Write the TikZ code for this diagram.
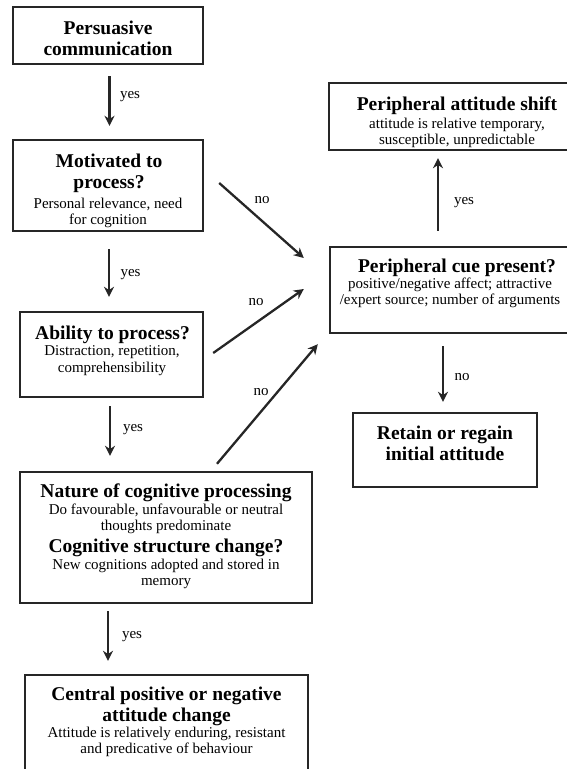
\documentclass[tikz,border=0pt]{standalone}
\usepackage{fontspec}
\setmainfont{Liberation Serif}
\usetikzlibrary{arrows.meta,calc}
\begin{document}
\begin{tikzpicture}[x=1pt,y=-1pt,
  box/.style={draw=black!85, line width=2.4pt, rectangle, inner sep=0pt},
  ttl/.style={font=\fontsize{19.5}{21.5}\selectfont\bfseries, align=center, inner sep=0pt, anchor=north},
  dsc/.style={font=\fontsize{15}{16.5}\selectfont, align=center, inner sep=0pt, anchor=north},
  lbl/.style={font=\fontsize{15}{16}\selectfont, inner sep=0pt},
  arr/.style={draw=black!85, line width=2.3pt, -{Stealth[length=10pt,width=10pt]}}]
\useasboundingbox (0,0) rectangle (567,769);
\clip (0,0) rectangle (567,769);

% boxes
\node[box, minimum width=190pt, minimum height=57pt] (b1) at (108,35.5) {};
\node[box, minimum width=190pt, minimum height=91pt] (b2) at (108,185.5) {};
\node[box, minimum width=183pt, minimum height=85pt] (b3) at (111.5,354.5) {};
\node[box, minimum width=292pt, minimum height=131pt] (b4) at (166,537.5) {};
\node[box, minimum width=283pt, minimum height=110pt] (b5) at (166.5,730) {};
\node[box, minimum width=261pt, minimum height=67pt] (p1) at (459.5,116.5) {};
\node[box, minimum width=260pt, minimum height=86pt] (p2) at (460,290) {};
\node[box, minimum width=184pt, minimum height=74pt] (r) at (445,450) {};

% texts
\node[ttl] (t1) at (108,20.5) {Persuasive\\communication};
\node[ttl] (t2) at (109,153.5) {Motivated to\\process?};
\node[dsc] (d2) at (108,197.5) {Personal relevance, need\\for cognition};
\node[ttl] (t3) at (112.5,325.5) {Ability to process?};
\node[dsc] (d3) at (112,345.5) {Distraction, repetition,\\comprehensibility};
\node[ttl] (t4) at (166,483.5) {Nature of cognitive processing};
\node[dsc] (d4) at (166,503.5) {Do favourable, unfavourable or neutral\\thoughts predominate};
\node[ttl] (t4b) at (166,538.5) {Cognitive structure change?};
\node[dsc] (d4b) at (166,558.5) {New cognitions adopted and stored in\\memory};
\node[ttl] (t5) at (166.5,686.5) {Central positive or negative\\attitude change};
\node[dsc] (d5) at (166.5,726.5) {Attitude is relatively enduring, resistant\\and predicative of behaviour};
\node[ttl] (tp1) at (457,96.5) {Peripheral attitude shift};
\node[dsc] (dp1) at (457,117.5) {attitude is relative temporary,\\susceptible, unpredictable};
\node[ttl] (tp2) at (457,258.5) {Peripheral cue present?};
\node[dsc] (dp2) at (450,277.5) {positive/negative affect; attractive\\/expert source; number of arguments};
\node[ttl] (tr) at (445,425.5) {Retain or regain\\initial attitude};

% connectors
\draw[arr] ($(b1.south)+(1.5,11)$) -- ($(b2.north)+(1.5,-13)$);
\draw[arr] ($(b2.south)+(1,17)$) -- ($(b3.north)+(-2.5,-14)$);
\draw[arr] ($(b3.south)+(-1.5,8)$) -- ($(b4.north)+(-56,-15)$);
\draw[arr] ($(b4.south)+(-58,7)$) -- ($(b5.north)+(-58.5,-13)$);
\draw[arr] ($(b2.east)+(15,-2.5)$) -- ($(p2.west)+(-25,-32)$);
\draw[arr] ($(b3.east)+(9,-1.5)$) -- ($(p2.west)+(-25,-1)$);
\draw[arr] ($(b4.north)+(51,-7)$) -- ($(p2.south west)+(-11,10)$);
\draw[arr] ($(p2.north)+(-22,-15)$) -- ($(p1.south)+(-21.5,7)$);
\draw[arr] ($(p2.south)+(-17,12)$) -- ($(r.north)+(-2,-10)$);

% labels
\node[lbl] (y1) at (130,97) {yes};
\node[lbl] (y2) at (130.5,275) {yes};
\node[lbl] (y3) at (133,430) {yes};
\node[lbl] (y4) at (132,637) {yes};
\node[lbl] (y5) at (464,203) {yes};
\node[lbl] (n1) at (262,200) {no};
\node[lbl] (n2) at (256,302) {no};
\node[lbl] (n3) at (261,392) {no};
\node[lbl] (n4) at (462,377) {no};
\end{tikzpicture}
\end{document}
